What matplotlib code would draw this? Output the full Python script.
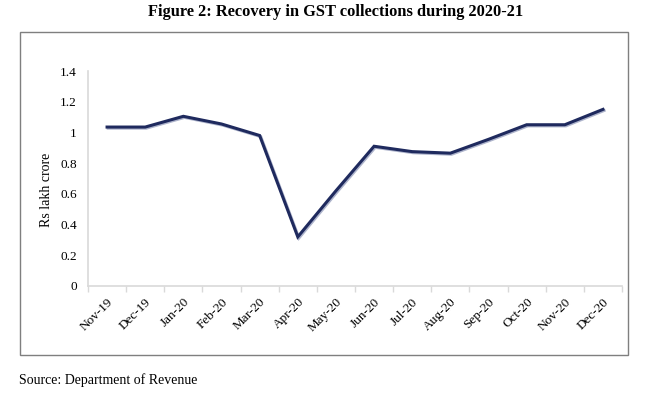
import matplotlib
matplotlib.use("Agg")
import matplotlib.pyplot as plt
import matplotlib.patheffects as pe
from matplotlib.patches import Rectangle
import numpy as np

months = ["Nov-19", "Dec-19", "Jan-20", "Feb-20", "Mar-20", "Apr-20", "May-20",
          "Jun-20", "Jul-20", "Aug-20", "Sep-20", "Oct-20", "Nov-20", "Dec-20"]
gst = [1.035, 1.035, 1.105, 1.055, 0.98, 0.32, 0.62, 0.91, 0.875, 0.865, 0.955, 1.05, 1.05, 1.15]
yticks = [0, 0.2, 0.4, 0.6, 0.8, 1, 1.2, 1.4]
ytick_labels = ["0", "0.2", "0.4", "0.6", "0.8", "1", "1.2", "1.4"]

plt.rcParams['font.family'] = ['Liberation Serif', 'DejaVu Serif']

fig = plt.figure(figsize=(6.5, 3.95), dpi=100)
ax = fig.add_axes([88/650, 1-286/395, (622-88)/650, (286-71)/395])

x = np.arange(len(months))
ax.plot(x, gst, color="#1F2A5E", lw=2.2, solid_joinstyle="miter",
        path_effects=[pe.SimpleLineShadow(offset=(0.8, -0.8), shadow_color="#8A93B5", alpha=0.7),
                      pe.Normal()])

ax.set_xlim(-0.5, len(months) - 0.5)
ax.set_ylim(0, 1.4)
ax.set_yticks(yticks)
ax.set_yticklabels(ytick_labels, fontsize=9.5)
ax.tick_params(axis='y', length=0, pad=8)

ax.set_xticks(x)
ax.set_xticklabels(months, rotation=45, ha='right', rotation_mode='anchor', fontsize=9.5)
ax.tick_params(axis='x', which='major', length=0, pad=7)
ax.set_xticks(np.arange(-0.5, len(months), 1), minor=True)
ax.tick_params(axis='x', which='minor', length=4, color="#D9D9D9", width=1)

for s in ["top", "right"]:
    ax.spines[s].set_visible(False)
for s in ["left", "bottom"]:
    ax.spines[s].set_color("#D9D9D9")
    ax.spines[s].set_linewidth(1.2)

fig.text(46/650, 1-190/395, "Rs lakh crore", rotation=90, ha='center', va='center', fontsize=10)

fig.patches.append(Rectangle((20/650, 1-355/395), 608/650, 323/395, transform=fig.transFigure,
                             fill=False, edgecolor="#7F7F7F", lw=1.0))

fig.text(336/650, 1-12/395, "Figure 2: Recovery in GST collections during 2020-21",
         ha='center', va='center', fontsize=11.8, fontweight='bold')
fig.text(19/650, 1-380/395, "Source: Department of Revenue", ha='left', va='center', fontsize=10)

fig.savefig("out.png", dpi=100)
